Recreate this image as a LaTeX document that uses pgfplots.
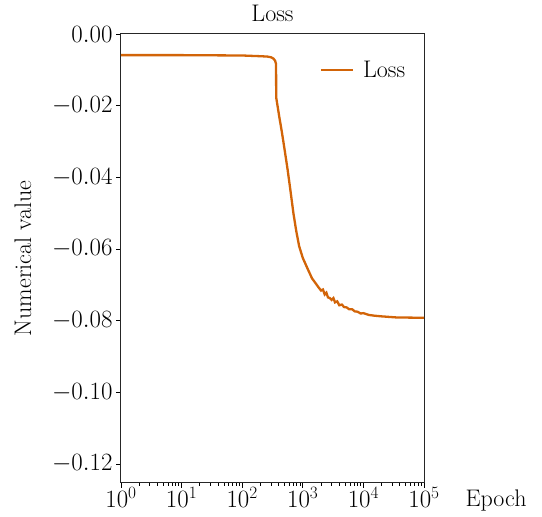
\documentclass[border=0pt]{standalone}
\usepackage{pgfplots}
\pgfplotsset{compat=1.18}
\definecolor{lossc}{RGB}{210,100,8}
\begin{document}
\begin{tikzpicture}[x=1pt,y=1pt]
\path[use as bounding box] (0,0) rectangle (542,517);
\begin{axis}[
  at={(121pt,34pt)}, anchor=south west,
  scale only axis, width=303pt, height=449pt,
  xmode=log, xmin=1, xmax=100000,
  ymin=-0.1253, ymax=0,
  ytick={0,-0.02,-0.04,-0.06,-0.08,-0.10,-0.12},
  yticklabel style={/pgf/number format/.cd,fixed,fixed zerofill,precision=2},
  scaled y ticks=false,
  xtick={1,10,100,1000,10000,100000},
  tick align=outside, tick pos=left,
  major tick length=5pt, minor tick length=3pt,
  every tick/.style={black, line width=0.9pt},
  axis line style={line width=1pt, black!85},
  ticklabel style={font=\fontsize{24}{28}\selectfont},
  xticklabel style={anchor=base, yshift=-20pt},
  title={Loss}, title style={font=\fontsize{24}{28}\selectfont, at={(axis description cs:0.5,1)}, anchor=base, yshift=6pt},
  ylabel={Numerical value}, ylabel style={font=\fontsize{24}{28}\selectfont, at={(axis description cs:0,0.5)}, anchor=center, yshift=98pt},
  xlabel={Epoch}, xlabel style={font=\fontsize{24}{28}\selectfont, at={(axis description cs:1,0)}, anchor=base west, xshift=38pt, yshift=-24pt},
  legend style={draw=none, fill=none, at={(axis description cs:0.955,0.92)}, anchor=east, font=\fontsize{24}{28}\selectfont, legend cell align=left},
  legend image code/.code={\draw[#1, line width=1.6pt] (0pt,0pt) -- (32pt,0pt); \path (39pt,0pt);},
]
\addplot[lossc, line width=2.3pt] coordinates {
(1,-0.0059) (10,-0.0059) (100,-0.0060) (200,-0.0062) (260,-0.0063) (300,-0.0065)
(330,-0.0069) (350,-0.0075) (362,-0.0084) (364,-0.0177) (380,-0.0197) (410,-0.0232)
(450,-0.0272) (500,-0.0322) (560,-0.0377) (620,-0.0432) (700,-0.0500) (780,-0.0550)
(870,-0.0592) (1000,-0.0625) (1200,-0.0655) (1420,-0.0682) (1650,-0.0697)
(1800,-0.0706) (2000,-0.0716) (2150,-0.0713) (2300,-0.0727) (2450,-0.0722) (2600,-0.0735)
(2800,-0.0737) (3000,-0.0742) (3200,-0.0737) (3400,-0.0749) (3700,-0.0746) (4000,-0.0757)
(4400,-0.0755) (4800,-0.0762) (5300,-0.0763) (5800,-0.0768) (6500,-0.0768) (7200,-0.0774)
(8000,-0.0775) (9000,-0.0780) (10000,-0.0779) (12300,-0.0784) (15000,-0.0786)
(20000,-0.0788) (35000,-0.0791) (100000,-0.0792)
};
\addlegendentry{Loss}
\end{axis}
\end{tikzpicture}
\end{document}
